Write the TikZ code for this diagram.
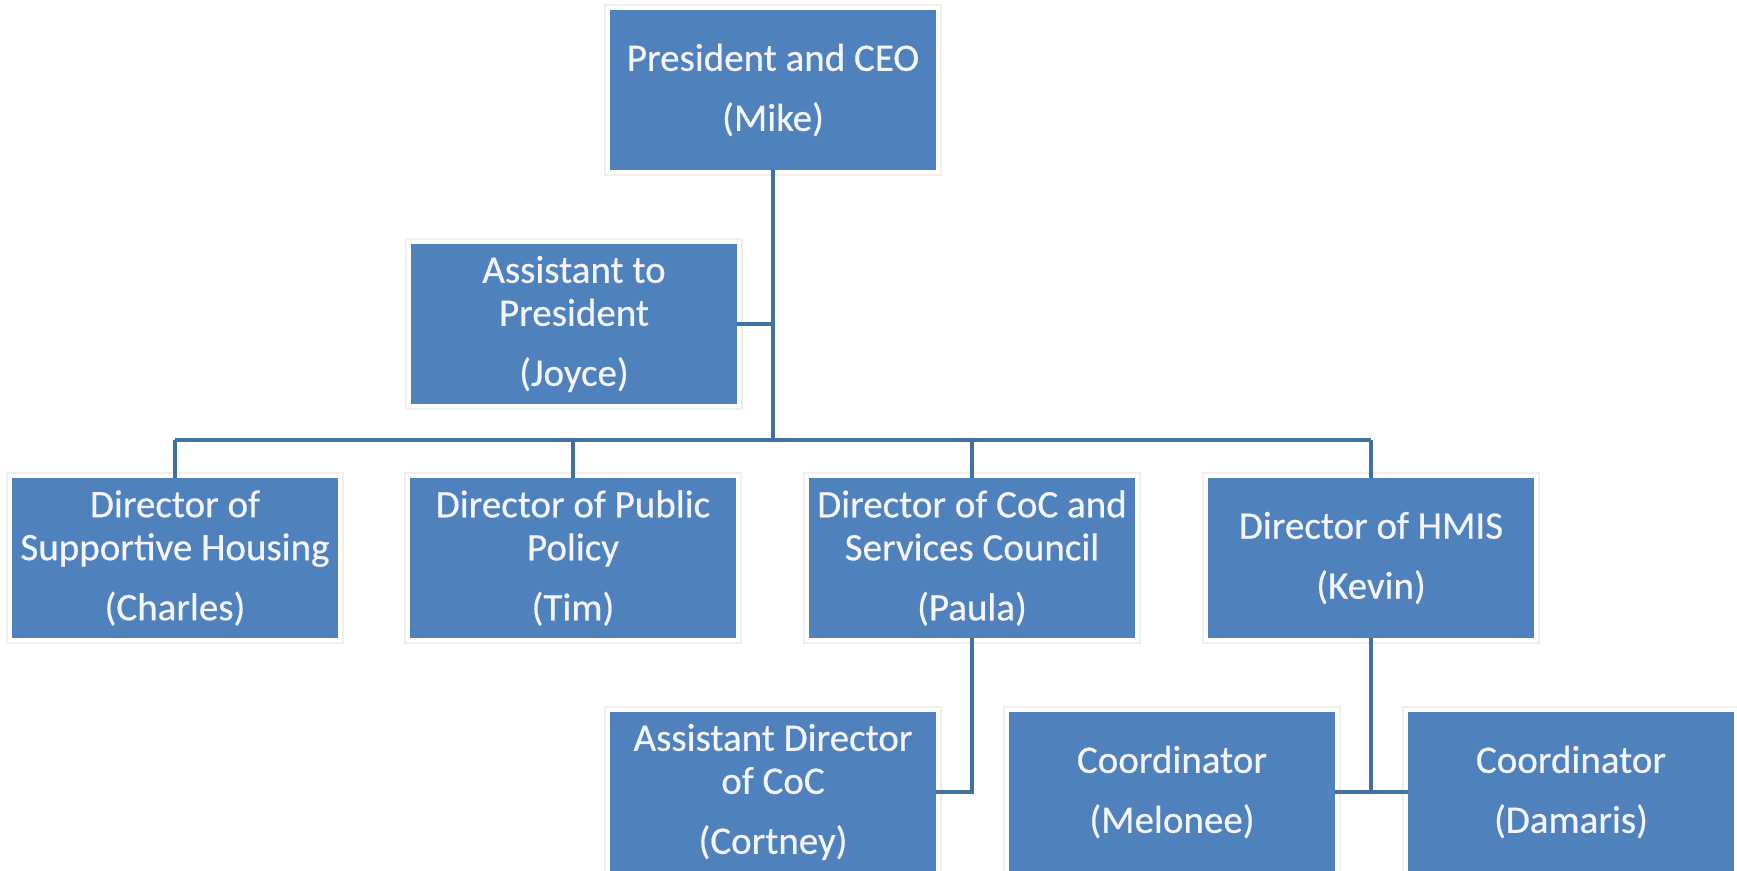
\documentclass[tikz,border=0pt]{standalone}
\usepackage{fontspec}
\setmainfont{Carlito}
\newfontfamily\boxfont{Carlito}[FakeBold=0.5]
\definecolor{boxblue}{HTML}{4F81BD}
\definecolor{linkblue}{HTML}{41719C}
\definecolor{frameg}{HTML}{EFEFEF}
\begin{document}
\begin{tikzpicture}[x=1pt,y=-1pt,
  orgbox/.style={fill=boxblue, draw=none, minimum width=326pt, minimum height=160pt,
    inner sep=0pt, align=center, text=white!96!blue,
    font=\boxfont\fontsize{39}{43}\selectfont},
  link/.style={draw=linkblue, line width=4pt}]
\clip (0,0) rectangle (1737,870);
\fill[white] (0,0) rectangle (1737,870);
% nodes
\node[orgbox] (pres) at (773,90) {President and CEO\\[17pt](Mike)};
\node[orgbox] (asst) at (574,324) {Assistant to\\President\\[17pt](Joyce)};
\node[orgbox] (d1) at (175,558) {Director of\\Supportive Housing\\[17pt](Charles)};
\node[orgbox] (d2) at (573,558) {Director of Public\\Policy\\[17pt](Tim)};
\node[orgbox] (d3) at (972,558) {Director of CoC and\\Services Council\\[17pt](Paula)};
\node[orgbox] (d4) at (1371,558) {Director of HMIS\\[17pt](Kevin)};
\node[orgbox] (ad) at (773,792) {Assistant Director\\of CoC\\[17pt](Cortney)};
\node[orgbox] (c1) at (1172,792) {Coordinator\\[17pt](Melonee)};
\node[orgbox] (c2) at (1571,792) {Coordinator\\[17pt](Damaris)};
% light frames
\foreach \n in {pres,asst,d1,d2,d3,d4,ad,c1,c2}
  \draw[frameg, line width=1.5pt] ([shift={(-5,-5)}]\n.north west) rectangle ([shift={(5,5)}]\n.south east);
% connectors
\coordinate (bar) at (773,440);
\coordinate (barL) at (175,440);
\coordinate (barR) at (1371,440);
\draw[link] (pres.south) -- (bar);
\draw[link] (asst.east) -- (asst.east -| bar);
\draw[link] (barL) -- (barR);
\draw[link] (d1.north) -- (d1.north |- bar);
\draw[link] (d2.north) -- (d2.north |- bar);
\draw[link] (d3.north) -- (d3.north |- bar);
\draw[link] (d4.north) -- (d4.north |- bar);
\draw[link] (d3.south) -- (d3.south |- ad.east) -- (ad.east);
\draw[link] (d4.south) -- (d4.south |- c1.east);
\draw[link] (c1.east) -- (c2.west);
\end{tikzpicture}
\end{document}
